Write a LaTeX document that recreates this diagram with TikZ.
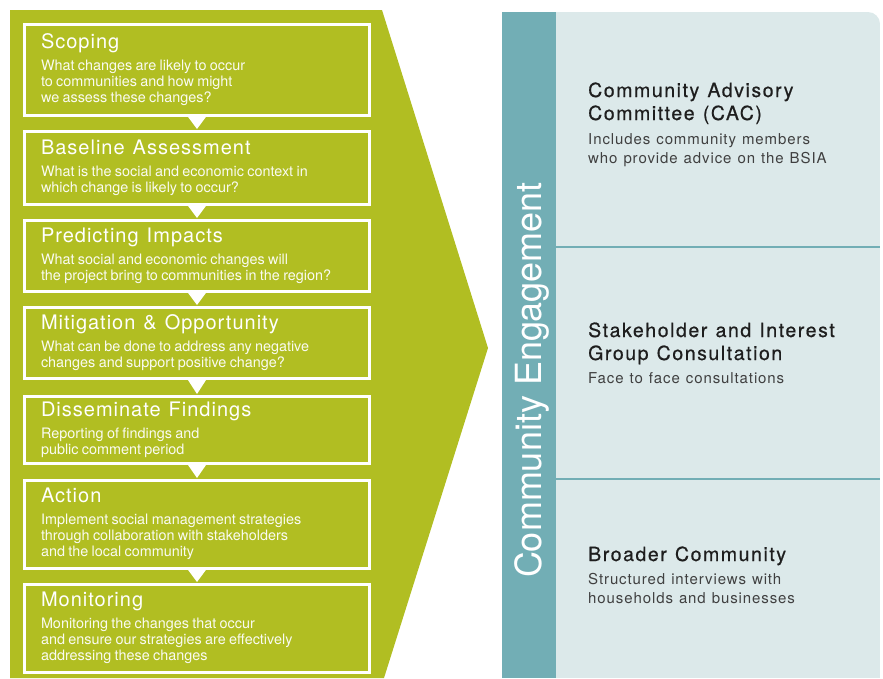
\documentclass[tikz,border=0pt]{standalone}
\usepackage{fontspec}
\setmainfont{TeX Gyre Heros}
\newfontfamily\trackedfont[LetterSpace=5]{TeX Gyre Heros}
\newfontfamily\widefont[LetterSpace=8,FakeBold=0.6]{TeX Gyre Heros}
\newfontfamily\spacedfont[LetterSpace=6]{TeX Gyre Heros}
\usepackage{tikz}
\usetikzlibrary{positioning,calc}
\definecolor{sialime}{HTML}{B1BE22}
\definecolor{siateal}{HTML}{72AEB5}
\definecolor{siamist}{HTML}{DCE9EA}
\definecolor{siaink}{HTML}{1E1E1E}
\newcommand{\steptitle}{\trackedfont\fontsize{20}{24}\selectfont\spaceskip=0.4em\relax}
\newcommand{\stepdesc}{\fontsize{14.4}{16}\selectfont\color{white!94!sialime}}
\newcommand{\grouptitle}{\widefont\fontsize{19.5}{23}\selectfont\spaceskip=0.42em\relax}
\newcommand{\groupdesc}{\spacedfont\fontsize{15}{18.5}\selectfont\spaceskip=0.4em\relax\color{siaink!85}}
\tikzset{stepbox/.style={draw=white, line width=3pt, minimum width=345pt, text width=312pt, inner xsep=16.5pt, inner ysep=0pt, align=left, text=white, anchor=center}}
\tikzset{grouptext/.style={anchor=base west, text width=285pt, inner sep=0pt, align=left, text=siaink}}
\tikzset{flowtip/.style={fill=white}}

\begin{document}
\begin{tikzpicture}[x=1pt,y=-1pt]
\useasboundingbox (0,0) rectangle (883,678);
	\fill[sialime] (10,10) -- (382,10) -- (488,348) -- (384,678) -- (10,678) -- cycle;
	\fill[siateal] (502,12) rectangle (556,678);
	\fill[siamist] (556,12) rectangle (868,678);
	\fill[siamist] (556,24) rectangle (880,678);
	\fill[siamist] (868,24) circle[radius=12pt];
	\draw[siateal, line width=1.5pt] (556,247) -- (880,247);
	\draw[siateal, line width=1.5pt] (556,479) -- (880,479);
\begin{scope}[every node/.style={stepbox}]
	\node[minimum height=91pt] at (197, 69.5) (scope) {{\steptitle Scoping\par}\vskip6pt
		{\stepdesc What changes are likely to occur\\to communities and how might\\we assess these changes?\par}};
	\node[minimum height=73pt] at (197, 167.5) (base) {{\steptitle Baseline Assessment\par}\vskip6pt
		{\stepdesc What is the social and economic context in\\which change is likely to occur?\par}};
	\node[minimum height=71pt] at (197, 255.5) (pred) {{\steptitle Predicting Impacts\par}\vskip6pt
		{\stepdesc What social and economic changes will\\the project bring to communities in the region?\par}};
	\node[minimum height=71pt] at (197, 342.5) (mitig) {{\steptitle Mitigation \& Opportunity\par}\vskip6pt
		{\stepdesc What can be done to address any negative\\changes and support positive change?\par}};
	\node[minimum height=67pt] at (197, 429.5) (dissem) {{\steptitle Disseminate Findings\par}\vskip6pt
		{\stepdesc Reporting of findings and\\public comment period\par}};
	\node[minimum height=88pt] at (197, 524) (action) {{\steptitle Action\par}\vskip6pt
		{\stepdesc Implement social management strategies\\through collaboration with stakeholders\\and the local community\par}};
	\node[minimum height=88pt] at (197, 628) (monit) {{\steptitle Monitoring\par}\vskip6pt
		{\stepdesc Monitoring the changes that occur\\and ensure our strategies are effectively\\addressing these changes\par}};
\end{scope}
	\foreach \a/\b in {scope/base, base/pred, pred/mitig, mitig/dissem, dissem/action, action/monit}
		\fill[flowtip] ($(\a.south)+(-10,-1)$) -- ($(\a.south)+(10,-1)$) -- ($(\b.north)+(0,-0.5)$) -- cycle;

	\node[rotate=90, anchor=base, inner sep=0pt, text=white, font=\fontsize{36}{40}\selectfont] at (541,380) (engage) {Community Engagement};

	\node[grouptext] at (588,97) (cac) {{\grouptitle Community Advisory\\Committee (CAC)\par}\vskip6pt
		{\groupdesc Includes community members\\who provide advice on the BSIA\par}};
	\node[grouptext] at (588,337) (consult) {{\grouptitle Stakeholder and Interest\\Group Consultation\par}\vskip5pt
		{\groupdesc Face to face consultations\par}};
	\node[grouptext] at (588,561) (broad) {{\grouptitle Broader Community\par}\vskip5pt
		{\groupdesc Structured interviews with\\households and businesses\par}};
\end{tikzpicture}
\end{document}
